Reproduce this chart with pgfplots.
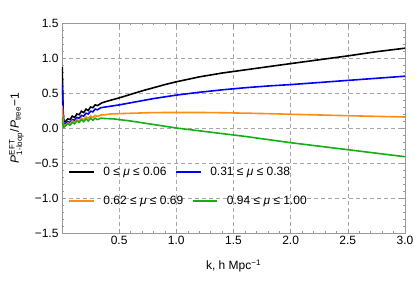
\documentclass[border=0pt]{standalone}
\usepackage{pgfplots}
\pgfplotsset{compat=1.18}
\usepackage{amsmath}
\usepackage{fontspec}
\setmainfont{Liberation Sans}
\definecolor{morange}{RGB}{255,140,20}
\definecolor{mgreen}{RGB}{20,175,20}
\definecolor{mblue}{RGB}{0,0,255}
\begin{document}
\begin{tikzpicture}[font=\fontsize{12}{14}\selectfont]
\pgfplotsset{
  mybase/.style={
    at={(0,0)}, anchor=south west,
    scale only axis, width=343pt, height=210pt,
    xmin=0, xmax=3, ymin=-1.5, ymax=1.5,
  },
  mylegend/.style={
    legend columns=2,
    legend style={anchor=west, draw=none, fill=none,
      column sep=7pt, font=\fontsize{12}{14}\selectfont},
    legend image code/.code={\draw[##1, line width=1.6pt] (0cm,0cm) -- (0.85cm,0cm);},
  }
}
\begin{axis}[mybase, mylegend,
  xtick={0.5,1.0,1.5,2.0,2.5,3.0},
  xticklabels={0.5,1.0,1.5,2.0,2.5,3.0},
  ytick={-1.5,-1.0,-0.5,0,0.5,1.0,1.5},
  yticklabels={−1.5,−1.0,−0.5,0.0,0.5,1.0,1.5},
  minor tick num=4,
  tick align=inside,
  major tick length=4pt, minor tick length=2pt,
  tick style={gray!80, line width=0.5pt},
  axis line style={gray!80, line width=0.6pt},
  grid=major,
  major grid style={gray!70, dash pattern=on 4pt off 3pt, line width=0.6pt},
  xlabel={k, h Mpc$^{\text{−1}}$},
  ylabel={\textit{P}$^{\text{EFT}}_{\text{1-loop}}$/\textit{P}$_{\text{tree}}$−1},
  xlabel style={yshift=-8pt},
  ylabel style={yshift=4pt},
  legend style={at={(axis cs:0.03,-0.63)}},
  every axis plot/.append style={line width=1.6pt},
]
\addplot[black] coordinates {
(0.002,0.87)(0.006,0.55)(0.010,0.25)(0.016,0.10)(0.03,0.09)(0.05,0.13)(0.07,0.12)
(0.09,0.17)(0.11,0.15)(0.13,0.20)(0.15,0.19)(0.17,0.24)(0.19,0.22)(0.21,0.27)
(0.23,0.25)(0.25,0.30)(0.27,0.29)(0.29,0.33)(0.31,0.32)(0.35,0.36)(0.4,0.385)
(0.5,0.43)(0.6,0.48)(0.7,0.53)(0.8,0.575)(0.9,0.62)(1.0,0.66)(1.2,0.73)(1.4,0.785)
(1.6,0.83)(1.8,0.875)(2.0,0.92)(2.25,0.975)(2.5,1.03)(2.75,1.09)(3.0,1.14)};
\addplot[mblue] coordinates {
(0.002,0.63)(0.006,0.40)(0.010,0.18)(0.016,0.06)(0.03,0.06)(0.05,0.09)(0.07,0.08)
(0.09,0.12)(0.11,0.11)(0.13,0.15)(0.15,0.14)(0.17,0.18)(0.19,0.17)(0.21,0.21)
(0.23,0.20)(0.25,0.24)(0.27,0.23)(0.29,0.27)(0.31,0.26)(0.34,0.29)(0.38,0.30)
(0.42,0.31)(0.46,0.32)(0.50,0.33)(0.6,0.36)(0.7,0.39)(0.8,0.42)(0.9,0.445)(1.0,0.47)
(1.2,0.51)(1.4,0.545)(1.6,0.575)(1.8,0.60)(2.0,0.62)(2.25,0.65)(2.5,0.68)(2.75,0.71)(3.0,0.74)};
\addplot[morange] coordinates {
(0.002,0.32)(0.006,0.20)(0.010,0.08)(0.016,0.03)(0.03,0.04)(0.05,0.07)(0.07,0.06)
(0.09,0.10)(0.11,0.08)(0.13,0.12)(0.15,0.10)(0.17,0.14)(0.19,0.12)(0.21,0.16)
(0.23,0.14)(0.25,0.17)(0.27,0.15)(0.29,0.18)(0.31,0.165)(0.34,0.185)(0.38,0.19)
(0.42,0.20)(0.5,0.205)(0.6,0.21)(0.8,0.22)(1.0,0.222)(1.2,0.222)(1.4,0.218)(1.6,0.212)
(1.8,0.205)(2.0,0.196)(2.25,0.186)(2.5,0.176)(2.75,0.166)(3.0,0.157)};
\addplot[mgreen] coordinates {
(0.002,0.15)(0.006,0.08)(0.010,0.03)(0.016,0.01)(0.03,0.03)(0.05,0.06)(0.07,0.04)
(0.09,0.08)(0.11,0.06)(0.13,0.10)(0.15,0.08)(0.17,0.12)(0.19,0.09)(0.21,0.13)
(0.23,0.10)(0.25,0.14)(0.27,0.11)(0.29,0.14)(0.31,0.12)(0.34,0.14)(0.38,0.135)
(0.45,0.13)(0.5,0.12)(0.6,0.10)(0.7,0.075)(0.8,0.05)(0.9,0.025)(1.0,0.0)(1.2,-0.04)
(1.4,-0.08)(1.6,-0.12)(1.8,-0.165)(2.0,-0.21)(2.25,-0.26)(2.5,-0.31)(2.75,-0.36)(3.0,-0.41)};
\legend{0 ≤ \textit{μ} ≤ 0.06, 0.31 ≤ \textit{μ} ≤ 0.38}
\end{axis}
\begin{axis}[mybase, mylegend, hide axis,
  legend style={at={(axis cs:0.03,-1.04)}},
]
\addlegendimage{morange}
\addlegendimage{mgreen}
\legend{0.62 ≤ \textit{μ} ≤ 0.69, 0.94 ≤ \textit{μ} ≤ 1.00}
\end{axis}
\pgfresetboundingbox
\path (-62pt,-50pt) rectangle (353pt,233pt);
\end{tikzpicture}
\end{document}
